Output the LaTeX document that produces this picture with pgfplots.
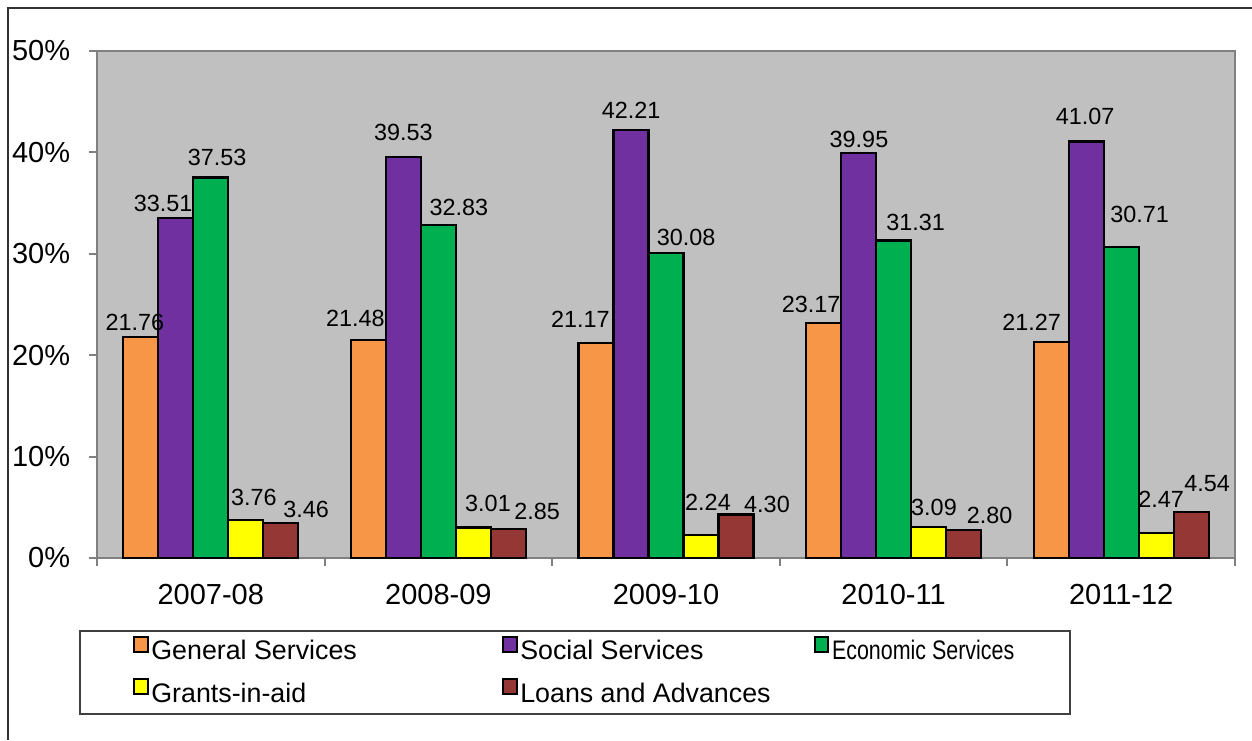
\documentclass[border=0pt]{standalone}
\usepackage{pgfplots}
\pgfplotsset{compat=1.18}
\usepackage{graphicx}
\usepackage{fontspec}
\setmainfont{Liberation Sans}
\definecolor{gsorange}{HTML}{F79646}
\definecolor{sspurple}{HTML}{7030A0}
\definecolor{esgreen}{HTML}{00B050}
\definecolor{gayellow}{HTML}{FFFF00}
\definecolor{lared}{HTML}{953735}
\definecolor{plotgray}{HTML}{C0C0C0}
\definecolor{axgray}{HTML}{808080}
\pgfplotsset{
  mybar/.style={draw=black, line width=1.1pt, fill=#1,
    legend image code/.code={\draw[fill=#1, draw=black, line width=1pt] (0.5pt,0.3pt) rectangle (7.3pt,7.9pt);}},
}
\begin{document}
\begin{tikzpicture}
\useasboundingbox (0,0) rectangle (626pt,370pt);
\draw[line width=1pt, black!80] (4pt,0pt) -- (4pt,366pt) -- (626pt,366pt);
\draw[line width=0.8pt, black!75] (40pt,13pt) rectangle (535pt,54.65pt);
\begin{axis}[
  at={(48.5pt,91pt)}, anchor=south west,
  scale only axis, width=569pt, height=253.5pt,
  xmin=-0.5, xmax=4.5, ymin=0, ymax=50,
  ybar=0pt, bar width=17.5pt,
  axis background/.style={fill=plotgray},
  axis line style={draw=axgray, line width=1pt},
  tick style={draw=axgray, line width=1pt},
  tick align=outside, major tick length=3.75pt,
  xtick={-0.5,0.5,1.5,2.5,3.5,4.5},
  x tick label as interval,
  xticklabels={2007-08,2008-09,2009-10,2010-11,2011-12},
  ytick={0,10,20,30,40,50},
  yticklabel={\pgfmathprintnumber{\tick}\%},
  xtick pos=bottom, ytick pos=left,
  /pgf/number format/assume math mode=true,
  ticklabel style={font=\fontsize{14.5}{17}\selectfont},
  xticklabel style={inner sep=0pt, anchor=north, yshift=-9pt},
  yticklabel style={inner sep=0pt, anchor=east, xshift=-9.5pt},
  nodes near coords={\pgfmathprintnumber[fixed,fixed zerofill,precision=2]{\pgfplotspointmeta}},
  visualization depends on={value \thisrow{dx}\as\labdx},
  visualization depends on={value \thisrow{gap}\as\labgap},
  nodes near coords style={font=\fontsize{11.7}{14}\selectfont, anchor=base, inner sep=0pt, xshift=\labdx pt, yshift=\labgap pt, text=black},
  legend columns=3,
  legend cell align=left,
  legend style={at={(0.0316,-0.154)}, anchor=north west, draw=none, fill=none,
    inner sep=0pt, outer sep=0pt, font=\fontsize{13.4}{16}\selectfont,
    nodes={inner sep=0pt, text height=10pt, text depth=3pt},
    column sep=1.4pt, row sep=6.2pt,
    /tikz/column 2/.style={column sep=72.5pt},
    /tikz/column 4/.style={column sep=21.5pt}},
  clip=false,
]
\addplot[mybar=gsorange] table[x=x,y=y]{
x y dx gap
0 21.76 -3 3.5
1 21.48 -6.5 7
2 21.17 -7.8 7.8
3 23.17 -6.2 5.3
4 21.27 -9.8 6
};
\addlegendentry{General Services}
\addplot[mybar=sspurple] table[x=x,y=y]{
x y dx gap
0 33.51 -6.3 3.6
1 39.53 0 8.1
2 42.21 0.1 5.5
3 39.95 0.2 2.5
4 41.07 -0.5 8.3
};
\addlegendentry{Social Services}
\addplot[mybar=esgreen] table[x=x,y=y]{
x y dx gap
0 37.53 3.2 6
1 32.83 10.2 4.8
2 30.08 10.1 3.8
3 31.31 11 5.1
4 30.71 9.2 12.2
};
\addlegendentry{\scalebox{0.8}[1]{Economic Services}}
\addplot[mybar=gayellow] table[x=x,y=y]{
x y dx gap
0 3.76 4 7
1 3.01 7.3 8
2 2.24 3.5 12.5
3 3.09 2.7 5.8
4 2.47 2.5 12.5
};
\addlegendentry{Grants-in-aid}
\addplot[mybar=lared] table[x=x,y=y]{
x y dx gap
0 3.46 12.7 2.5
1 2.85 14.4 4.8
2 4.30 15.5 0.8
3 2.80 13 3
4 4.54 8 10.3
};
\addlegendentry{Loans and Advances}
\end{axis}
\end{tikzpicture}
\end{document}
